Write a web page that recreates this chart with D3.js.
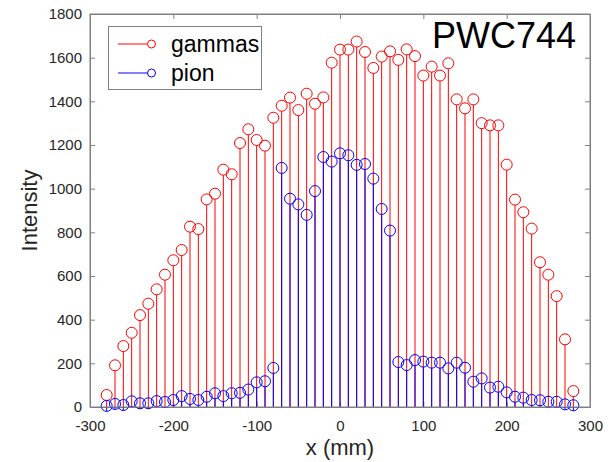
<!DOCTYPE html>
<html>
<head>
<meta charset="utf-8">
<script src="https://cdn.jsdelivr.net/npm/d3@7"></script>
<style>
  body { margin: 0; background: #fff; }
  text { font-family: "Liberation Sans", Arial, sans-serif; }
</style>
</head>
<body>
<script>
// x positions (mm) of the scan points
const xPos = [-280, -270, -260, -250, -240, -230, -220, -210, -200, -190,
  -180, -170, -160, -150, -140, -130, -120, -110, -100, -90,
  -80, -70, -60, -50, -40, -30, -20, -10, 0, 10,
  20, 30, 40, 50, 60, 70, 80, 90, 100, 110,
  120, 130, 140, 150, 160, 170, 180, 190, 200, 210,
  220, 230, 240, 250, 260, 270, 280];

// gammas intensity
const gammas = [55, 191, 279, 340, 421, 473, 539, 606, 672, 719,
  826, 815, 951, 977, 1087, 1066, 1209, 1272, 1223, 1197,
  1325, 1380, 1417, 1360, 1435, 1389, 1418, 1577, 1637, 1637,
  1674, 1626, 1553, 1605, 1629, 1590, 1638, 1607, 1518, 1559,
  1518, 1574, 1409, 1368, 1409, 1300, 1290, 1290, 1110, 950,
  892, 817, 663, 606, 508, 310, 73];

// pion intensity
const pion = [5, 14, 9, 26, 17, 17, 27, 23, 32, 50,
  37, 32, 47, 63, 50, 63, 65, 80, 113, 118,
  179, 1095, 954, 928, 880, 989, 1145, 1124, 1162, 1153,
  1109, 1113, 1046, 907, 808, 206, 192, 215, 208, 203,
  203, 177, 203, 180, 116, 131, 89, 93, 67, 47,
  43, 32, 31, 24, 24, 12, 8];

const xTicks = [-300, -200, -100, 0, 100, 200, 300];
const yTicks = [0, 200, 400, 600, 800, 1000, 1200, 1400, 1600, 1800];

const colors = {
  gammas: "#ff0000",
  pion: "#0000ff",
  axis: "#808080",
  text: "#262626"
};

// Plot box
const plotLeft = 90, plotRight = 590, plotTop = 14, plotBottom = 407;

const svg = d3.select("body").append("svg")
  .attr("width", 615)
  .attr("height", 462);

const x = d3.scaleLinear().domain([-300, 300]).range([plotLeft, plotRight]);
const y = d3.scaleLinear().domain([0, 1800]).range([plotBottom, plotTop]);

// plain integers with a normal hyphen for negatives
const fmt = d => String(d);

// Axes (ticks point inward like MATLAB)
const axisG = svg.append("g");

axisG.append("g")
  .attr("transform", `translate(0,${plotBottom})`)
  .call(d3.axisBottom(x).tickValues(xTicks).tickFormat(fmt).tickSizeInner(-5).tickSizeOuter(0).tickPadding(13));

axisG.append("g")
  .attr("transform", `translate(${plotLeft},0)`)
  .call(d3.axisLeft(y).tickValues(yTicks).tickFormat(fmt).tickSizeInner(-5).tickSizeOuter(0).tickPadding(8));

// top and right ticks, no labels
axisG.append("g")
  .attr("transform", `translate(0,${plotTop})`)
  .call(d3.axisTop(x).tickValues(xTicks).tickSizeInner(-5).tickSizeOuter(0).tickFormat(""));

axisG.append("g")
  .attr("transform", `translate(${plotRight},0)`)
  .call(d3.axisRight(y).tickValues(yTicks).tickSizeInner(-5).tickSizeOuter(0).tickFormat(""));

axisG.selectAll(".domain").attr("stroke", colors.axis);
axisG.selectAll(".tick line").attr("stroke", colors.axis);
axisG.selectAll(".tick text")
  .attr("fill", colors.text)
  .style("font-size", "15px")
  .style("font-family", "'Liberation Sans', Arial, sans-serif");

// Stems - gammas first, pion drawn on top
function drawStems(values, color) {
  const g = svg.append("g");
  g.selectAll("line")
    .data(values)
    .join("line")
    .attr("x1", (d, i) => x(xPos[i]))
    .attr("x2", (d, i) => x(xPos[i]))
    .attr("y1", y(0))
    .attr("y2", d => y(d) + 5.5)
    .attr("stroke", color)
    .attr("stroke-width", 1);
  g.selectAll("circle")
    .data(values)
    .join("circle")
    .attr("cx", (d, i) => x(xPos[i]))
    .attr("cy", d => y(d))
    .attr("r", 5.5)
    .attr("fill", "none")
    .attr("stroke", color)
    .attr("stroke-width", 1);
}

drawStems(gammas, colors.gammas);
drawStems(pion, colors.pion);

// Redraw box edges over the marks
svg.append("rect")
  .attr("x", plotLeft)
  .attr("y", plotTop)
  .attr("width", plotRight - plotLeft)
  .attr("height", plotBottom - plotTop)
  .attr("fill", "none")
  .attr("stroke", colors.axis)
  .attr("stroke-width", 1);

// Axis labels
svg.append("text")
  .attr("x", (plotLeft + plotRight) / 2)
  .attr("y", 455)
  .attr("text-anchor", "middle")
  .style("font-size", "22px")
  .attr("fill", colors.text)
  .text("x (mm)");

svg.append("text")
  .attr("transform", `translate(37,${(plotTop + plotBottom) / 2}) rotate(-90)`)
  .attr("text-anchor", "middle")
  .style("font-size", "22px")
  .attr("fill", colors.text)
  .text("Intensity");

// Title in the corner
svg.append("text")
  .attr("x", 576)
  .attr("y", 48)
  .attr("text-anchor", "end")
  .style("font-size", "36px")
  .attr("fill", "#000")
  .text("PWC744");

// Legend
const legend = svg.append("g");
legend.append("rect")
  .attr("x", 108.5)
  .attr("y", 26.5)
  .attr("width", 153)
  .attr("height", 63)
  .attr("fill", "#fff")
  .attr("stroke", colors.axis);

const legendItems = [
  { name: "gammas", color: colors.gammas, cy: 44 },
  { name: "pion", color: colors.pion, cy: 73 }
];

legendItems.forEach(item => {
  legend.append("line")
    .attr("x1", 118).attr("x2", 148)
    .attr("y1", item.cy).attr("y2", item.cy)
    .attr("stroke", item.color);
  legend.append("circle")
    .attr("cx", 151.5).attr("cy", item.cy)
    .attr("r", 4)
    .attr("fill", "white")
    .attr("stroke", item.color);
  legend.append("text")
    .attr("x", 171)
    .attr("y", item.cy + 8)
    .style("font-size", "23px")
    .attr("fill", "#000")
    .text(item.name);
});
</script>
</body>
</html>
